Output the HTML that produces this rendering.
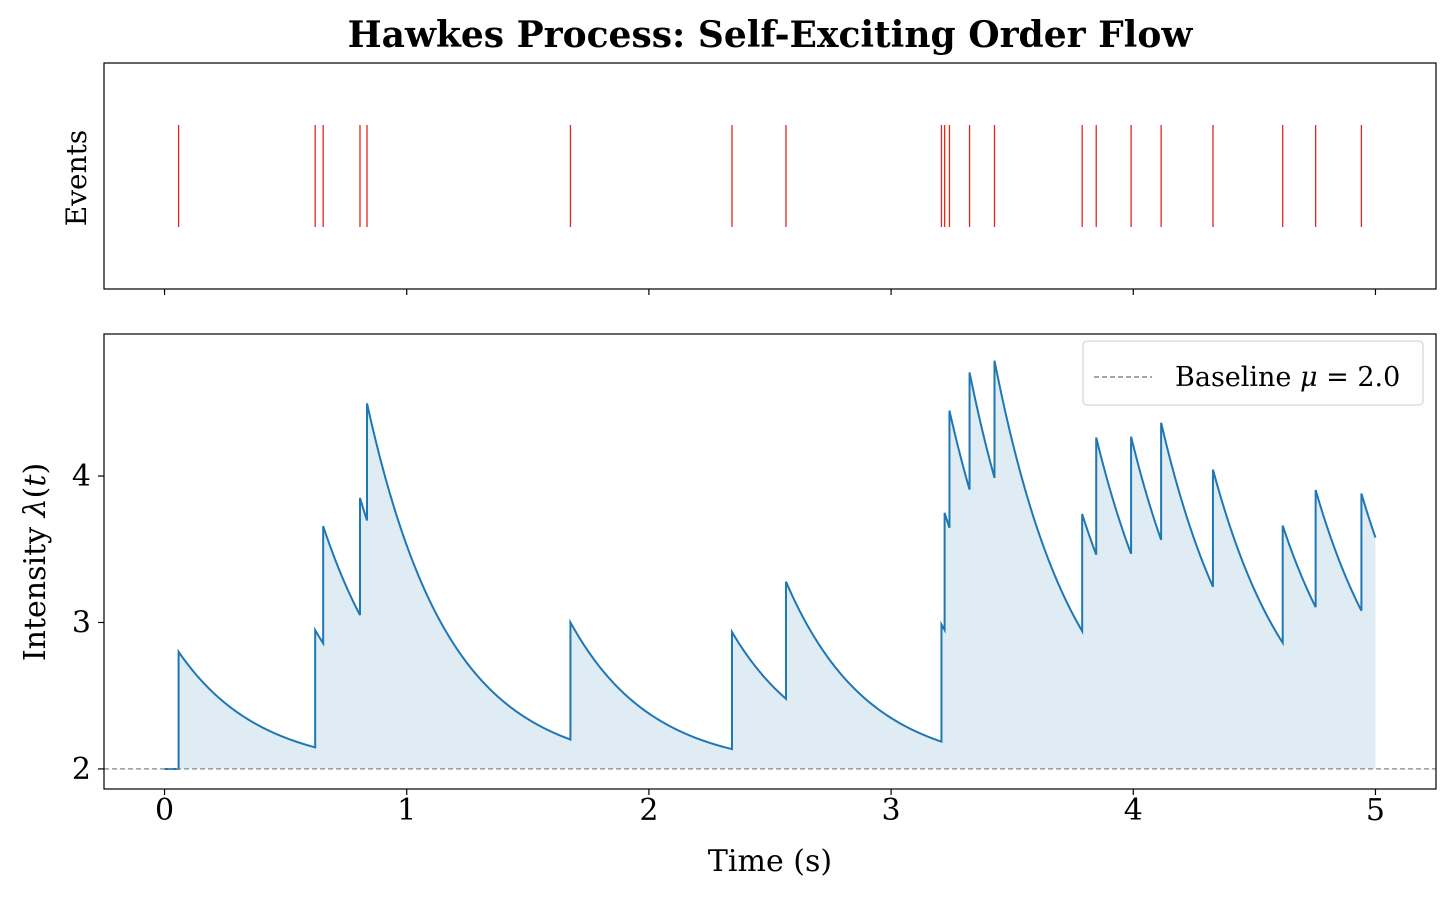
<!DOCTYPE html>
<html><head><meta charset="utf-8"><style>
body{margin:0;background:#fff;}
svg text{font-family:"DejaVu Serif","Liberation Serif",serif;}
</style></head><body>
<svg id="chart" width="1456" height="899" xmlns="http://www.w3.org/2000/svg">
<text x="770" y="47" text-anchor="middle" font-size="36" font-weight="bold">Hawkes Process: Self-Exciting Order Flow</text>
<g id="topPanel"></g>
<g id="botPanel"></g>
</svg>
<script>
const eventTimes=[0.058,0.622,0.655,0.807,0.836,1.676,2.343,2.566,3.208,3.221,3.241,3.324,3.427,3.789,3.847,3.991,4.115,4.329,4.617,4.753,4.942];
const baselineMu=[2.0];
const kernelParams=[0.8,3.0]; // alpha, beta
const xTicks=[0,1,2,3,4,5];
const yTicks=[2,3,4];
const NS="http://www.w3.org/2000/svg";
const L=104,R=1436,xmin=-0.25,xmax=5.25;
const X=t=>L+(t-xmin)/(xmax-xmin)*(R-L);
const T1=63,B1=289,T2=334,B2=789,ymin=1.863,ymax=4.97;
const Y=v=>B2-(v-ymin)/(ymax-ymin)*(B2-T2);
function mk(tag,attrs,parent,txt){const e=document.createElementNS(NS,tag);for(const k in attrs)e.setAttribute(k,attrs[k]);if(txt!==undefined)e.textContent=txt;parent.appendChild(e);return e;}
const gTop=document.getElementById('topPanel'),gBot=document.getElementById('botPanel');
eventTimes.forEach(t=>{const l=mk('line',{x1:X(t),x2:X(t),y1:125,y2:227,stroke:'#e8251c','stroke-width':1.3},gTop);

});
const f1=mk('rect',{x:L,y:T1,width:R-L,height:B1-T1,fill:'none',stroke:'#000','stroke-width':1.2},gTop);


xTicks.forEach(v=>mk('line',{x1:X(v),x2:X(v),y1:B1,y2:B1+6,stroke:'#000','stroke-width':1.2},gTop));
const ev=mk('text',{x:86,y:178,'font-size':28,'text-anchor':'middle',transform:'rotate(-90 86 178)'},gTop,'Events');


const mu=baselineMu[0],a=kernelParams[0],b=kernelParams[1];
function lam(t){let s=mu;for(const e of eventTimes){if(e<=t)s+=a*Math.exp(-b*(t-e));}return s;}
let pts=[];let ts=[];for(let t=0;t<=5.00001;t+=0.004)ts.push(+t.toFixed(4));
eventTimes.forEach(e=>{ts.push(e-1e-9);ts.push(e);});ts.sort((p,q)=>p-q);
ts.forEach(t=>pts.push([X(t),Y(lam(t))]));
const d=pts.map((p,i)=>(i?'L':'M')+p[0].toFixed(2)+','+p[1].toFixed(2)).join('');
const fill=mk('path',{d:d+`L${X(5)},${Y(mu)}L${X(0)},${Y(mu)}Z`,fill:'#1f77b4','fill-opacity':0.14},gBot);


const line=mk('path',{d:d,fill:'none',stroke:'#1f77b4','stroke-width':2},gBot);


const bl=mk('line',{x1:L,x2:R,y1:Y(mu),y2:Y(mu),stroke:'#7f8c8d','stroke-width':1.5,'stroke-dasharray':'5,3','stroke-opacity':0.85},gBot);


const f2=mk('rect',{x:L,y:T2,width:R-L,height:B2-T2,fill:'none',stroke:'#000','stroke-width':1.2},gBot);


xTicks.forEach(v=>{mk('line',{x1:X(v),x2:X(v),y1:B2,y2:B2+6,stroke:'#000','stroke-width':1.2},gBot);
const t=mk('text',{x:X(v),y:B2+31,'font-size':30,'text-anchor':'middle'},gBot,String(v));

});
yTicks.forEach(v=>{mk('line',{x1:L-6,x2:L,y1:Y(v),y2:Y(v),stroke:'#000','stroke-width':1.2},gBot);
const t=mk('text',{x:L-13,y:Y(v)+10,'font-size':30,'text-anchor':'end'},gBot,String(v));

});
const xl=mk('text',{x:770,y:871,'font-size':30,'text-anchor':'middle'},gBot,'Time (s)');


const yl=mk('text',{x:45,y:562,'font-size':30,'text-anchor':'middle',transform:'rotate(-90 45 562)'},gBot);


yl.innerHTML='Intensity <tspan font-style="italic">λ</tspan>(<tspan font-style="italic">t</tspan>)';
const lg=mk('g',{},gBot);


mk('rect',{x:1083,y:341,width:340,height:64,rx:4,fill:'#fff','fill-opacity':0.85,stroke:'#ccc'},lg);
mk('line',{x1:1094,x2:1152,y1:377,y2:377,stroke:'#7f8c8d','stroke-width':1.5,'stroke-dasharray':'5,3'},lg);
const lt=mk('text',{x:1175,y:386,'font-size':27},lg);


lt.innerHTML='Baseline <tspan font-style="italic">μ</tspan> = 2.0';
</script>
</body></html>
